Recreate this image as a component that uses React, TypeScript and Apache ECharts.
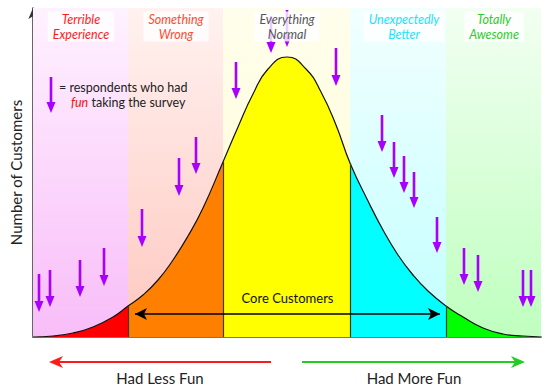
import React, { useEffect, useRef } from "react";
import * as echarts from "echarts";

// ---- data (x: fun score offset, y: number of customers) ----
const curveX = [0, 20, 40, 60, 80, 95, 110, 125, 140, 155, 170, 190, 205, 220, 235, 254, 273, 288, 303, 317, 335, 350, 365, 380, 395, 413, 430, 450, 470, 490, 508];
const curveY = [0, 1, 4, 10, 20, 31, 42, 57, 77, 101, 129, 175, 210, 243, 268, 280, 268, 245, 212, 174, 136, 107, 82, 62, 46, 31, 20, 9, 3, 1, 0];

const bandEdges = [0, 95, 190, 317, 413, 508];
const bandLabels = ["Terrible\nExperience", "Something\nWrong", "Everything\nNormal", "Unexpectedly\nBetter", "Totally\nAwesome"];
const bandLabelColors = ["#ff1a1a", "#ff4a30", "#55555f", "#19e3ff", "#2ccc2c"];
const areaColors = ["#ff0000", "#ff8000", "#ffff00", "#00ffff", "#00ff00"];
const bandTop = ["#fff2ff", "#fff2f0", "#fffeec", "#f2ffff", "#f2fff2"];
const bandBottom = ["#f8bdf8", "#ffc8c0", "#fffbd0", "#c2ffff", "#bfffbf"];

// respondents who had fun: [x, top, tip]
const funArrows = [
  [6, 63, 25], [17, 67, 30], [47, 77, 40], [71, 89, 51], [109, 128, 90],
  [146, 179, 141], [163, 200, 163], [203, 275, 238], [238, 321, 284], [254, 327, 290],
  [303, 289, 251], [349, 222, 185], [361, 195, 159], [371, 181, 144], [381, 165, 129],
  [404, 120, 84], [431, 89, 52], [445, 82, 45], [490, 67, 30], [498, 67, 30],
];
const legendArrow = [[18, 260, 224]];
const coreRange = [102, 407];
const coreLevel = 23;

const X_MAX = 508;
const Y_MAX = 329;
const PURPLE = "#a800ff";
const FONT = "Lato, 'Open Sans', sans-serif";

function heightAt(x: number): number {
  const i = curveX.indexOf(x);
  return curveY[i];
}

const arrowRender = (params: any, api: any) => {
  const x = api.value(0);
  const yt = api.value(1);
  const yb = api.value(2);
  const p1 = api.coord([x, yt]);
  const p2 = api.coord([x, yb]);
  const head = 11;
  const hw = 4.5;
  return {
    type: "group",
    children: [
      {
        type: "line",
        shape: { x1: p1[0], y1: p1[1], x2: p2[0], y2: p2[1] - head + 1 },
        style: { stroke: PURPLE, lineWidth: 2.6 },
      },
      {
        type: "polygon",
        shape: { points: [[p2[0] - hw, p2[1] - head], [p2[0] + hw, p2[1] - head], [p2[0], p2[1]]] },
        style: { fill: PURPLE },
      },
    ],
  };
};

export default function App() {
  const ref = useRef<HTMLDivElement>(null);
  useEffect(() => {
    if (!ref.current) return;
    const chart = echarts.init(ref.current, undefined, { renderer: "svg" });
    const curve = curveX.map((x, i) => [x, curveY[i]]);
    const gridLeft = 33;
    const gridRight = 9;

    const labelCenters = [81, 176, 287, 404, 494];

    const pieces = areaColors.map((c, i) => ({
      gte: bandEdges[i],
      lt: i === areaColors.length - 1 ? bandEdges[i + 1] + 1 : bandEdges[i + 1],
      color: c,
    }));

    const bandAreas = areaColors.map((_, i) => [
      {
        xAxis: bandEdges[i],
        itemStyle: {
          color: new echarts.graphic.LinearGradient(0, 0, 0, 1, [
            { offset: 0, color: bandTop[i] },
            { offset: 1, color: bandBottom[i] },
          ]),
        },
      },
      { xAxis: bandEdges[i + 1] },
    ]);

    const boundaryLines = bandEdges.slice(1, -1).map((x) => [
      { coord: [x, 0], symbol: "none" },
      { coord: [x, heightAt(x)], symbol: "none", lineStyle: { color: "#3a3a3a", width: 1.2, type: "solid" } },
    ]);

    const coreLine = [
      {
        coord: [coreRange[0], coreLevel],
        symbol: "arrow",
        symbolSize: [9, 12],
        lineStyle: { color: "#000", width: 1.6, type: "solid" },
        label: {
          show: true,
          position: "middle",
          formatter: "Core Customers",
          color: "#111",
          fontSize: 13,
          fontFamily: FONT,
          distance: 10,
        },
      },
      { coord: [coreRange[1], coreLevel], symbol: "arrow", symbolSize: [9, 12] },
    ];

    const graphics: any[] = bandLabels.map((t, i) => ({
      type: "text",
      z: 100,
      x: labelCenters[i],
      y: 11.5,
      style: {
        text: t,
        align: "center",
        verticalAlign: "top",
        fontFamily: FONT,
        fontStyle: "italic",
        fontSize: 12.5,
        lineHeight: 15,
        fill: bandLabelColors[i],
        backgroundColor: "rgba(255,255,255,0.8)",
        padding: [0, 5],
      },
    }));

    graphics.push(
      {
        type: "text",
        z: 100,
        x: 59,
        y: 87,
        style: { text: "= respondents who had", fontFamily: FONT, fontSize: 12.5, fill: "#222", verticalAlign: "middle" },
      },
      {
        type: "text",
        z: 100,
        x: 71,
        y: 102,
        style: {
          text: "{f|fun} taking the survey",
          fontFamily: FONT,
          fontSize: 12.5,
          fill: "#222",
          verticalAlign: "middle",
          rich: { f: { fill: "#ee1111", fontStyle: "italic", fontFamily: FONT, fontSize: 12.5 } },
        },
      },
      // bottom direction arrows
      { type: "line", shape: { x1: 271, y1: 362, x2: 56, y2: 362 }, style: { stroke: "#ff1a1a", lineWidth: 2 } },
      { type: "polygon", shape: { points: [[49, 362], [63, 356], [59, 362], [63, 368]] }, style: { fill: "#ff1a1a" } },
      { type: "text", x: 160, y: 378, style: { text: "Had Less Fun", align: "center", verticalAlign: "middle", fontFamily: FONT, fontSize: 15, fill: "#222" } },
      { type: "line", shape: { x1: 302, y1: 362, x2: 518, y2: 362 }, style: { stroke: "#22cc22", lineWidth: 2 } },
      { type: "polygon", shape: { points: [[525, 362], [511, 356], [515, 362], [511, 368]] }, style: { fill: "#22cc22" } },
      { type: "text", x: 414, y: 378, style: { text: "Had More Fun", align: "center", verticalAlign: "middle", fontFamily: FONT, fontSize: 15, fill: "#222" } }
    );

    chart.setOption({
      animation: false,
      backgroundColor: "#fff",
      grid: { left: gridLeft, right: gridRight, top: 8, bottom: 54 },
      xAxis: {
        type: "value",
        min: 0,
        max: X_MAX,
        axisLine: { show: true, lineStyle: { color: "#777", width: 2 } },
        axisTick: { show: false },
        axisLabel: { show: false },
        splitLine: { show: false },
      },
      yAxis: {
        type: "value",
        min: 0,
        max: Y_MAX,
        name: "Number of Customers",
        nameLocation: "middle",
        nameRotate: 90,
        nameGap: 10,
        nameTextStyle: { fontFamily: FONT, fontSize: 15, color: "#222" },
        axisLine: { show: true, symbol: ["none", "arrow"], symbolSize: [7, 11], lineStyle: { color: "#333", width: 1.5 } },
        axisTick: { show: false },
        axisLabel: { show: false },
        splitLine: { show: false },
      },
      visualMap: {
        type: "piecewise",
        show: false,
        dimension: 0,
        seriesIndex: 1,
        pieces,
      },
      series: [
        {
          type: "line",
          z: 1,
          data: curve,
          showSymbol: false,
          lineStyle: { width: 0, opacity: 0 },
          silent: true,
          markArea: { silent: true, data: bandAreas },
        },
        {
          type: "line",
          z: 2,
          data: curve,
          smooth: true,
          showSymbol: false,
          lineStyle: { width: 0, opacity: 0 },
          areaStyle: { opacity: 1 },
        },
        {
          type: "line",
          z: 3,
          data: curve,
          smooth: true,
          showSymbol: false,
          lineStyle: { color: "#111", width: 1.2 },
          markLine: {
            silent: true,
            symbol: ["none", "none"],
            animation: false,
            label: { show: false },
            lineStyle: { color: "#3a3a3a", width: 1.2, type: "solid" },
            data: [...boundaryLines, coreLine],
          },
        },
        {
          type: "custom",
          z: 4,
          clip: false,
          renderItem: arrowRender,
          encode: { x: 0, y: [1, 2] },
          data: funArrows,
        },
        {
          type: "custom",
          z: 4,
          clip: false,
          renderItem: arrowRender,
          encode: { x: 0, y: [1, 2] },
          data: legendArrow,
        },
      ],
      graphic: graphics,
    });
    return () => chart.dispose();
  }, []);
  return <div ref={ref} style={{ position: "fixed", left: 0, top: 0, width: 550, height: 391 }} />;
}
